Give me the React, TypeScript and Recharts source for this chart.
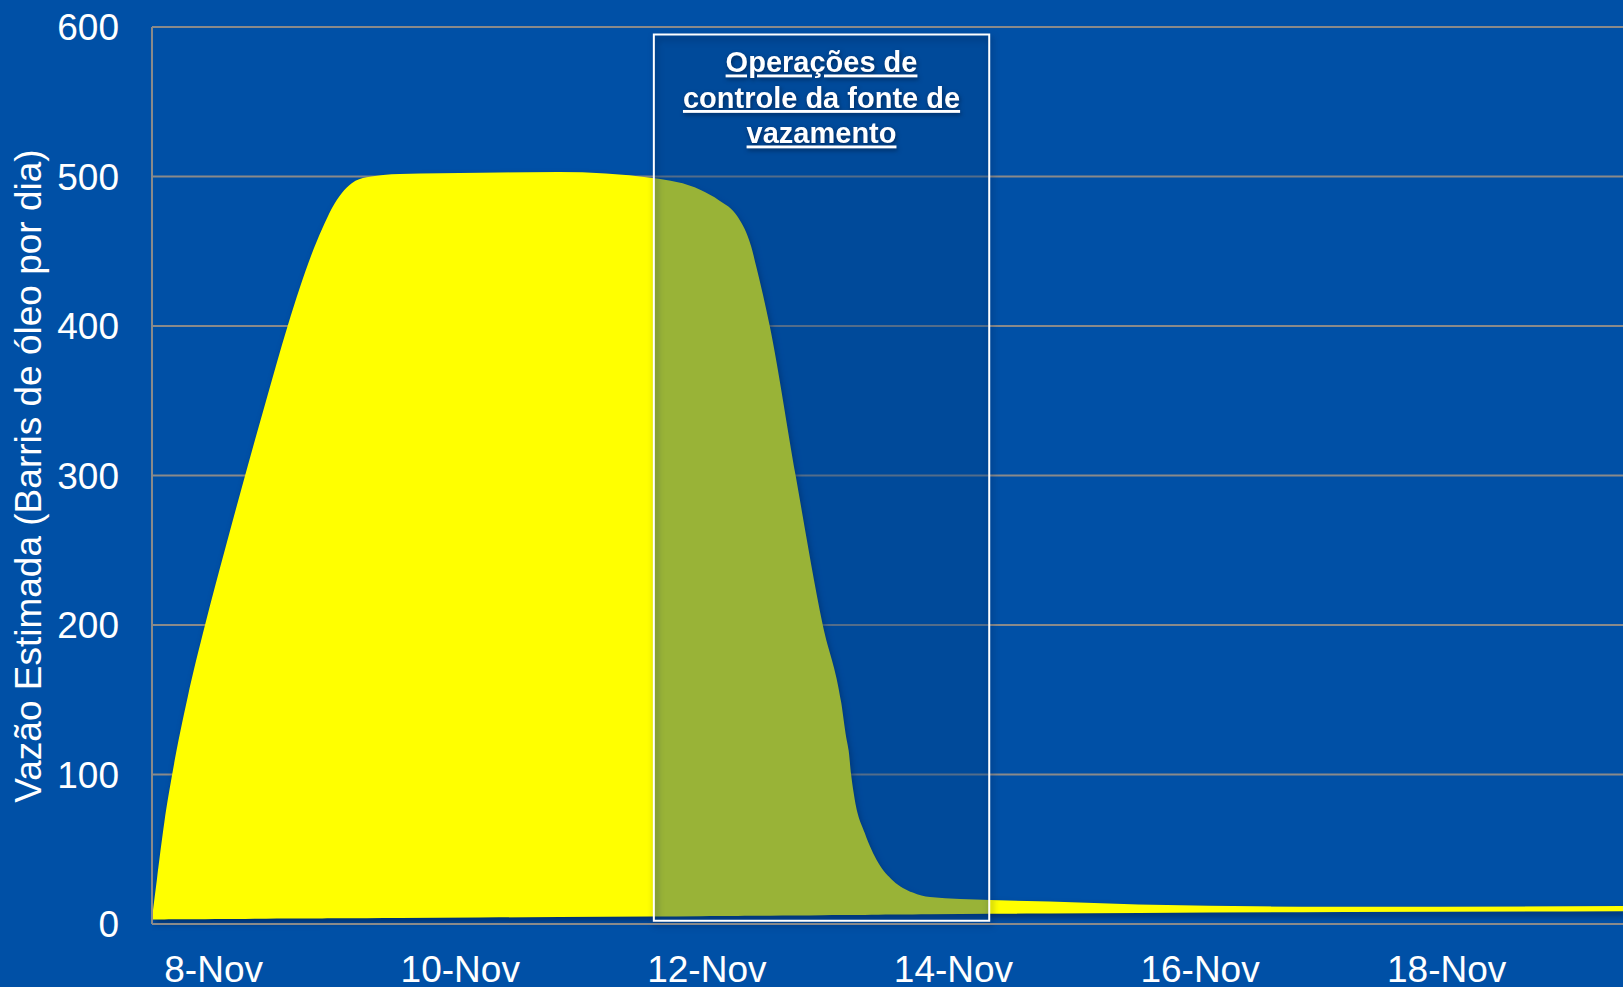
import React from "react";
import {
  ComposedChart,
  Area,
  XAxis,
  YAxis,
  CartesianGrid,
  ReferenceArea,
} from "recharts";

// Day of November (fractional) for each sampled point
const days = [
  7.5, 7.54, 7.6, 7.67, 7.79, 7.93, 8.09, 8.255, 8.425, 8.6, 8.7, 8.79, 8.88,
  8.96, 9.04, 9.12, 9.24, 9.51, 10.16, 10.8, 11.56, 11.95, 12.1, 12.25, 12.36,
  12.4, 12.51, 12.72, 12.94, 13.09, 13.13, 13.15, 13.17, 13.2, 13.28, 13.39,
  13.51, 13.67, 13.81, 14.3, 14.78, 15.5, 17.18, 19.43,
];
// Upper edge of the estimated flow (barrels/day)
const flowTop = [
  4, 30, 68, 103, 152, 200, 250, 300, 350, 400, 426, 447, 465, 479, 489, 495.5,
  499.5, 501.7, 502.5, 503, 499, 491, 484, 473, 453, 440, 400, 300, 200, 148,
  125, 116, 100, 83, 61, 41, 29, 21, 18, 16, 15, 13, 11.5, 12,
];
// Lower edge of the shape
const flowBase = [
  3.0, 3.0, 3.0, 3.1, 3.1, 3.2, 3.3, 3.4, 3.5, 3.6, 3.6, 3.7, 3.7, 3.8, 3.8,
  3.9, 3.9, 4.0, 4.3, 4.6, 5.0, 5.2, 5.3, 5.4, 5.5, 5.5, 5.6, 5.7, 5.9, 6.0,
  6.0, 6.0, 6.0, 6.0, 6.1, 6.2, 6.3, 6.4, 6.5, 6.8, 7.0, 7.4, 8.0, 8.6,
];

const xTicks = [8, 10, 12, 14, 16, 18];
const xTickLabels = ["8-Nov", "10-Nov", "12-Nov", "14-Nov", "16-Nov", "18-Nov"];
const yTicks = [0, 100, 200, 300, 400, 500, 600];
const xDomain = [7.5, 19.43];

// Highlighted window: control operations
const highlightX = [11.57, 14.29];
const highlightY = [2.2, 595];
const highlightLines = ["Operações de", "controle da fonte de", "vazamento"];
const yAxisTitle = "Vazão Estimada (Barris de óleo por dia)";

const data = days.map((d, i) => ({
  day: d,
  range: [flowBase[i], flowTop[i]],
}));

const BG = "#0050A6";
const GRID = "#8a8a8a";
const FONT = "'Liberation Sans', Arial, sans-serif";

const OverlayText = (props: any) => {
  const vb = props.viewBox || {};
  const cx = vb.x + vb.width / 2;
  const offs = [38, 73.5, 109];
  return (
    <g style={{ filter: "drop-shadow(1px 2px 2px rgba(0,20,50,0.6))" }}>
      {highlightLines.map((t, i) => (
        <text
          key={i}
          x={cx}
          y={vb.y + offs[i]}
          textAnchor="middle"
          fill="#ffffff"
          fontFamily={FONT}
          fontWeight="bold"
          fontSize={29}
          style={{ textDecoration: "underline" }}
        >
          {t}
        </text>
      ))}
    </g>
  );
};

export default function App() {
  return (
    <div
      style={{
        position: "absolute",
        left: 0,
        top: 0,
        width: 1623,
        height: 987,
        background: BG,
        overflow: "hidden",
        fontFamily: FONT,
      }}
    >
      <style>{`
        .flow-area path { filter: drop-shadow(2px 4px 3px rgba(0,20,60,0.55)); }
        .hl-frame rect, .hl-frame path { filter: drop-shadow(2px 4px 3px rgba(0,20,60,0.5)); }
      `}</style>
      <ComposedChart
        width={1623}
        height={987}
        data={data}
        margin={{ top: 27, right: 0, bottom: 0, left: 0 }}
      >
        <CartesianGrid vertical={false} stroke={GRID} strokeWidth={2} />
        <XAxis
          dataKey="day"
          type="number"
          domain={xDomain}
          allowDataOverflow
          ticks={xTicks}
          tickFormatter={(v: number) => xTickLabels[xTicks.indexOf(v)] ?? ""}
          height={63}
          axisLine={{ stroke: GRID, strokeWidth: 2 }}
          tickLine={false}
          tickSize={0}
          tickMargin={32}
          tick={{ fill: "#ffffff", fontSize: 37, fontFamily: FONT }}
          interval={0}
        />
        <YAxis
          type="number"
          domain={[0, 600]}
          ticks={yTicks}
          width={152}
          axisLine={{ stroke: GRID, strokeWidth: 2 }}
          tickLine={false}
          tickSize={0}
          tickMargin={33}
          tick={{ fill: "#ffffff", fontSize: 37, fontFamily: FONT }}
          interval={0}
        />
        <Area
          className="flow-area"
          type="monotone"
          dataKey="range"
          stroke="none"
          fill="#FFFF00"
          fillOpacity={1}
          isAnimationActive={false}
          dot={false}
          activeDot={false}
        />
        <ReferenceArea
          x1={highlightX[0]}
          x2={highlightX[1]}
          y1={highlightY[0]}
          y2={highlightY[1]}
          fill="#00418a"
          fillOpacity={0.4}
          stroke="none"
        />
        <ReferenceArea
          className="hl-frame"
          x1={highlightX[0]}
          x2={highlightX[1]}
          y1={highlightY[0]}
          y2={highlightY[1]}
          fill="none"
          fillOpacity={0}
          stroke="#ffffff"
          strokeWidth={2}
          strokeOpacity={1}
          label={<OverlayText />}
        />
      </ComposedChart>
      <svg
        width={80}
        height={987}
        style={{ position: "absolute", left: 0, top: 0, pointerEvents: "none" }}
      >
        <text
          x={41}
          y={476}
          transform="rotate(-90, 41, 476)"
          textAnchor="middle"
          fill="#ffffff"
          fontFamily={FONT}
          fontSize={37}
        >
          {yAxisTitle}
        </text>
      </svg>
    </div>
  );
}
